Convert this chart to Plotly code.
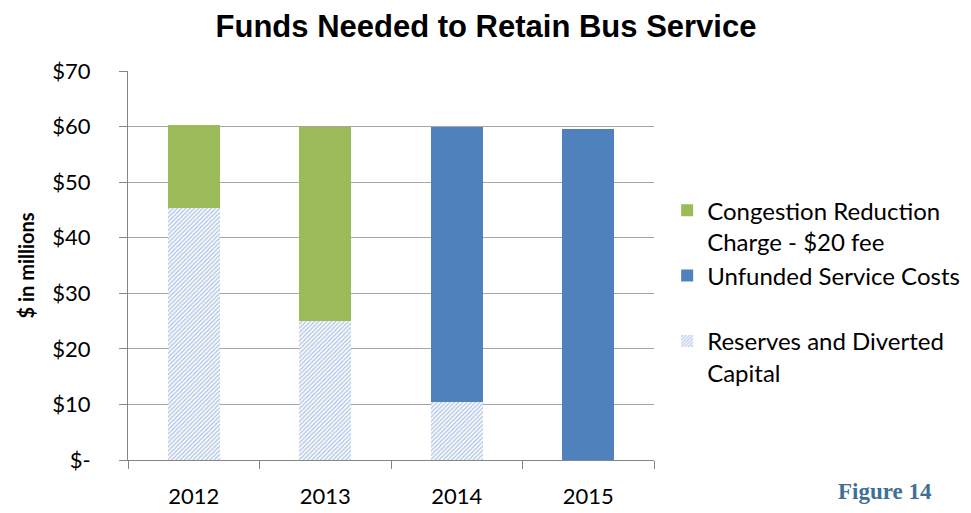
import plotly.graph_objects as go

years = ["2012", "2013", "2014", "2015"]
reserves = [45.4, 25.1, 10.4, 0.0]
unfunded = [0.0, 0.0, 49.5, 59.6]
congestion = [14.9, 34.9, 0.0, 0.0]
tick_vals = [0, 10, 20, 30, 40, 50, 60, 70]
tick_text = ["$-", "$10", "$20", "$30", "$40", "$50", "$60", "$70"]

FONT = "Lato"

fig = go.Figure()
fig.add_trace(go.Bar(
    x=years, y=reserves, name="Reserves and Diverted<br>Capital",
    marker=dict(color="white", line=dict(width=0),
                pattern=dict(shape="/", fgcolor="#6F95CF", bgcolor="white",
                             size=3, solidity=0.5)),
))
fig.add_trace(go.Bar(
    x=years, y=unfunded, name="Unfunded Service Costs<br> ",
    marker=dict(color="#4F81BD", line=dict(width=0)),
))
fig.add_trace(go.Bar(
    x=years, y=congestion, name="Congestion Reduction<br>Charge - $20 fee",
    marker=dict(color="#9BBB59", line=dict(width=0)),
))

fig.update_layout(
    barmode="stack",
    bargap=0.605,
    width=971, height=513,
    margin=dict(l=120, r=325, t=63, b=58),
    paper_bgcolor="white", plot_bgcolor="white",
    font=dict(family=FONT, size=20, color="black"),
    title=dict(text="<b>Funds Needed to Retain Bus Service</b>",
               font=dict(family="Liberation Sans", size=31, color="black"),
               x=0.4923, xanchor="center", y=0.965, yanchor="middle"),
    legend=dict(x=1.025, xanchor="left", y=0.699, yanchor="top",
                traceorder="reversed", valign="top",
                font=dict(family=FONT, size=24, color="black"),
                bgcolor="rgba(0,0,0,0)"),
    showlegend=True,
)
fig.update_yaxes(
    range=[0, 70], tickvals=tick_vals, ticktext=tick_text,
    showgrid=True, gridcolor="#A6A6A6", gridwidth=1,
    showline=True, linecolor="#868686", linewidth=1,
    ticks="outside", ticklen=8, tickcolor="#868686",
    ticklabelstandoff=24,
    tickfont=dict(family=FONT, size=22),
    title=dict(text="<b>$ in millions</b>", font=dict(family=FONT, size=20), standoff=12),
    zeroline=False,
)
fig.update_xaxes(
    showline=True, linecolor="#868686", linewidth=1,
    ticks="outside", ticklen=8, tickcolor="#868686", tickson="boundaries",
    ticklabelstandoff=17,
    tickfont=dict(family=FONT, size=22),
)
fig.add_annotation(
    text="<b>Figure 14</b>", xref="paper", yref="paper",
    x=1.439, y=-0.08, xanchor="center", yanchor="middle", showarrow=False,
    font=dict(family="Liberation Serif", size=23, color="#3F6F96"),
)

fig.write_html("out.html")
